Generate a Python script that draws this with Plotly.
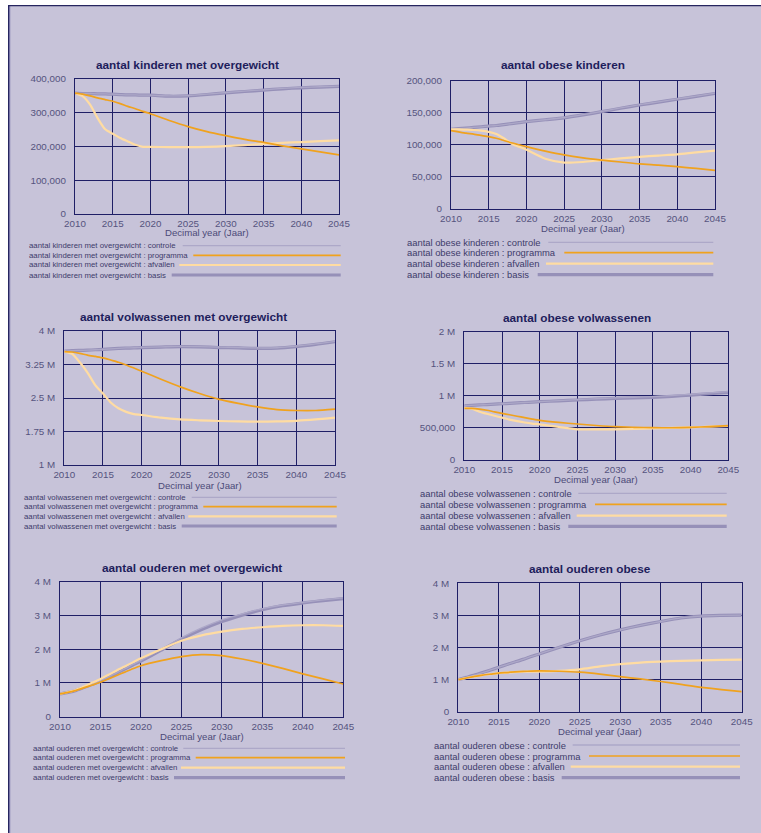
import plotly.graph_objects as go

# ---------------------------------------------------------------- data
YEARS = [2010, 2011, 2012, 2013, 2014, 2015, 2016, 2017, 2018, 2019, 2020,
         2022.5, 2025, 2027.5, 2030, 2032.5, 2035, 2037.5, 2040, 2042.5, 2045]

X_TICKS = [2010, 2015, 2020, 2025, 2030, 2035, 2040, 2045]
SCENARIOS = ["controle", "programma", "afvallen", "basis"]

# aantal kinderen met overgewicht (x 1000)
kind_ov_basis = [358, 357, 357, 356, 356, 355, 354, 353, 353, 352, 352,
                 349, 350, 354, 359, 363, 367, 371, 374, 376, 378]
kind_ov_controle = [358, 357, 357, 356, 356, 355, 354, 353, 353, 352, 352,
                    350, 351, 355, 360, 364, 368, 372, 375, 377, 379]
kind_ov_programma = [358, 355, 350, 344, 339, 334, 327, 319, 312, 304, 297,
                     277, 259, 244, 232, 221, 212, 202, 193, 184, 175]
kind_ov_afvallen = [358, 349, 324, 284, 251, 238, 225, 215, 205, 199, 199,
                    198, 198, 199, 201, 204, 208, 211, 213, 216, 218]

# aantal obese kinderen (x 1000)
kind_ob_basis = [124, 125, 126, 127, 128, 129, 130, 131.5, 133, 134.5, 136,
                 139, 142, 146.5, 151.6, 157, 162, 166.5, 171, 175.5, 180]
kind_ob_controle = [124, 125, 126, 127, 128, 129, 130, 131.5, 133, 134.5, 136,
                    139, 142.5, 147, 152, 157.5, 162.5, 167, 171.5, 176, 180.5]
kind_ob_programma = [122, 120, 118, 116.5, 114.5, 112.5, 110, 106.5, 103, 100, 97,
                     90, 84, 79.5, 76, 73, 70, 68, 65.6, 63, 60]
kind_ob_afvallen = [124, 124, 123.5, 123, 122, 120, 116.7, 110, 102, 97, 92,
                    78, 72, 73, 76, 78.5, 81, 83, 85, 88, 90.6]

# aantal volwassenen met overgewicht (miljoen)
volw_ov_basis = [3.55, 3.56, 3.565, 3.57, 3.58, 3.59, 3.60, 3.61, 3.615, 3.62, 3.63,
                 3.64, 3.65, 3.645, 3.63, 3.62, 3.61, 3.615, 3.65, 3.70, 3.76]
volw_ov_controle = [3.55, 3.56, 3.565, 3.57, 3.58, 3.59, 3.60, 3.61, 3.62, 3.625, 3.635,
                    3.645, 3.655, 3.65, 3.64, 3.63, 3.62, 3.625, 3.66, 3.71, 3.77]
volw_ov_programma = [3.54, 3.53, 3.50, 3.46, 3.43, 3.40, 3.35, 3.30, 3.24, 3.17, 3.10,
                     2.92, 2.75, 2.60, 2.47, 2.38, 2.30, 2.24, 2.22, 2.22, 2.25]
volw_ov_afvallen = [3.54, 3.49, 3.30, 3.07, 2.79, 2.60, 2.40, 2.27, 2.19, 2.14, 2.12,
                    2.06, 2.02, 2.00, 1.985, 1.975, 1.97, 1.975, 1.99, 2.02, 2.06]

# aantal obese volwassenen (miljoen)
volw_ob_basis = [0.846, 0.852, 0.858, 0.864, 0.871, 0.877, 0.883, 0.890, 0.896, 0.903, 0.909,
                 0.922, 0.935, 0.948, 0.960, 0.968, 0.976, 0.992, 1.012, 1.033, 1.054]
volw_ob_controle = [0.846, 0.852, 0.858, 0.864, 0.871, 0.877, 0.883, 0.890, 0.896, 0.903, 0.909,
                    0.925, 0.940, 0.955, 0.968, 0.978, 0.988, 1.004, 1.024, 1.045, 1.066]
volw_ob_programma = [0.805, 0.805, 0.794, 0.775, 0.750, 0.727, 0.705, 0.682, 0.660, 0.638, 0.618,
                     0.585, 0.561, 0.538, 0.519, 0.510, 0.504, 0.503, 0.509, 0.520, 0.535]
volw_ob_afvallen = [0.815, 0.800, 0.753, 0.720, 0.690, 0.660, 0.630, 0.605, 0.585, 0.568, 0.556,
                    0.515, 0.478, 0.476, 0.478, 0.485, 0.493, 0.500, 0.509, 0.520, 0.530]

# aantal ouderen met overgewicht (miljoen)
oud_ov_basis = [0.673, 0.72, 0.78, 0.87, 0.96, 1.06, 1.17, 1.29, 1.41, 1.53, 1.65,
                1.97, 2.30, 2.58, 2.82, 3.01, 3.17, 3.29, 3.37, 3.44, 3.50]
oud_ov_controle = [0.673, 0.72, 0.78, 0.87, 0.96, 1.07, 1.18, 1.30, 1.42, 1.55, 1.67,
                   2.00, 2.34, 2.63, 2.87, 3.05, 3.20, 3.31, 3.39, 3.46, 3.52]
oud_ov_programma = [0.673, 0.72, 0.78, 0.86, 0.94, 1.02, 1.12, 1.22, 1.32, 1.42, 1.51,
                    1.66, 1.78, 1.84, 1.81, 1.71, 1.58, 1.43, 1.27, 1.12, 0.97]
oud_ov_afvallen = [0.673, 0.73, 0.80, 0.90, 1.01, 1.12, 1.24, 1.37, 1.49, 1.61, 1.73,
                   2.00, 2.25, 2.41, 2.52, 2.60, 2.65, 2.69, 2.71, 2.71, 2.69]

# aantal ouderen obese (miljoen)
oud_ob_basis = [1.00, 1.07, 1.14, 1.22, 1.30, 1.385, 1.47, 1.55, 1.63, 1.72, 1.80,
                2.01, 2.21, 2.39, 2.55, 2.69, 2.81, 2.92, 2.98, 3.00, 3.01]
oud_ob_controle = [1.00, 1.07, 1.14, 1.22, 1.30, 1.385, 1.47, 1.55, 1.63, 1.72, 1.80,
                   2.01, 2.21, 2.39, 2.55, 2.69, 2.81, 2.92, 2.98, 3.00, 3.01]
oud_ob_programma = [1.00, 1.05, 1.10, 1.14, 1.17, 1.20, 1.22, 1.24, 1.255, 1.265, 1.27,
                    1.26, 1.23, 1.17, 1.09, 1.02, 0.94, 0.85, 0.76, 0.69, 0.625]
oud_ob_afvallen = [1.00, 1.05, 1.10, 1.14, 1.17, 1.20, 1.22, 1.235, 1.245, 1.25, 1.25,
                   1.27, 1.32, 1.41, 1.48, 1.53, 1.56, 1.585, 1.60, 1.615, 1.625]

# y-axis ticks per panel
Y1_TICKS = [0, 100000, 200000, 300000, 400000]
Y1_TEXT = ["0", "100,000", "200,000", "300,000", "400,000"]
Y2_TICKS = [0, 50000, 100000, 150000, 200000]
Y2_TEXT = ["0", "50,000", "100,000", "150,000", "200,000"]
Y3_TICKS = [1e6, 1.75e6, 2.5e6, 3.25e6, 4e6]
Y3_TEXT = ["1 M", "1.75 M", "2.5 M", "3.25 M", "4 M"]
Y4_TICKS = [0, 5e5, 1e6, 1.5e6, 2e6]
Y4_TEXT = ["0", "500,000", "1 M", "1.5 M", "2 M"]
Y5_TICKS = [0, 1e6, 2e6, 3e6, 4e6]
Y5_TEXT = ["0", "1 M", "2 M", "3 M", "4 M"]

# ---------------------------------------------------------------- styling
W, H = 761, 833
BG = "#C7C3D9"
GRID = "#1F1F66"
FONT = "Liberation Sans, Arial, sans-serif"
STYLE = {
    "basis":     dict(color="#9690B8", width=3.2),
    "controle":  dict(color="#ADA8C8", width=1.3),
    "afvallen":  dict(color="#FFDCA2", width=2.2),
    "programma": dict(color="#F0A21E", width=1.7),
}
DRAW_ORDER = ["basis", "controle", "afvallen", "programma"]


def fx(px):
    """pixel x -> paper coordinate"""
    return px / W


def fy(py):
    """pixel y (from top) -> paper coordinate"""
    return 1 - py / H


panels = [
    dict(title="aantal kinderen met overgewicht", scale=1000,
         series=dict(controle=kind_ov_controle, programma=kind_ov_programma,
                     afvallen=kind_ov_afvallen, basis=kind_ov_basis),
         yrange=[0, 400000], yt=Y1_TICKS, ytt=Y1_TEXT,
         box=(75, 339, 79, 214), tpos=(187.5, 65), xtitle_y=233,
         leg_x=27, leg_rows=[245.7, 255.3, 265, 275], leg_font=7.8,
         leg_start=[182.7, 193.3, 179.3, 171.7], leg_end=340.7),
    dict(title="aantal obese kinderen", scale=1000,
         series=dict(controle=kind_ob_controle, programma=kind_ob_programma,
                     afvallen=kind_ob_afvallen, basis=kind_ob_basis),
         yrange=[0, 200000], yt=Y2_TICKS, ytt=Y2_TEXT,
         box=(451, 715, 80.7, 208.7), tpos=(563, 65), xtitle_y=228.3,
         leg_x=405, leg_rows=[242.3, 252.7, 263.7, 274.7], leg_font=9.4,
         leg_start=[548.3, 564.3, 546, 537.7], leg_end=713.3),
    dict(title="aantal volwassenen met overgewicht", scale=1e6,
         series=dict(controle=volw_ov_controle, programma=volw_ov_programma,
                     afvallen=volw_ov_afvallen, basis=volw_ov_basis),
         yrange=[1e6, 4e6], yt=Y3_TICKS, ytt=Y3_TEXT,
         box=(64.3, 335, 331, 465), tpos=(183.5, 316.7), xtitle_y=485,
         leg_x=22.3, leg_rows=[497.3, 506.7, 516.3, 526], leg_font=7.8,
         leg_start=[191.7, 203.3, 188.3, 181.7], leg_end=336.7),
    dict(title="aantal obese volwassenen", scale=1e6,
         series=dict(controle=volw_ob_controle, programma=volw_ob_programma,
                     afvallen=volw_ob_afvallen, basis=volw_ob_basis),
         yrange=[0, 2e6], yt=Y4_TICKS, ytt=Y4_TEXT,
         box=(464.3, 728.3, 331.7, 460), tpos=(577, 317.7), xtitle_y=479.3,
         leg_x=418.3, leg_rows=[493.3, 504.3, 515.7, 526.3], leg_font=9.4,
         leg_start=[578.3, 595, 576.7, 568.3], leg_end=726.7),
    dict(title="aantal ouderen met overgewicht", scale=1e6,
         series=dict(controle=oud_ov_controle, programma=oud_ov_programma,
                     afvallen=oud_ov_afvallen, basis=oud_ov_basis),
         yrange=[0, 4e6], yt=Y5_TICKS, ytt=Y5_TEXT,
         box=(60, 343.3, 581.7, 716.7), tpos=(191.7, 567.7), xtitle_y=736,
         leg_x=31, leg_rows=[748.3, 757.7, 767.7, 777.7], leg_font=7.8,
         leg_start=[183.3, 195.7, 181, 174], leg_end=345),
    dict(title="aantal ouderen obese", scale=1e6,
         series=dict(controle=oud_ob_controle, programma=oud_ob_programma,
                     afvallen=oud_ob_afvallen, basis=oud_ob_basis),
         yrange=[0, 4e6], yt=Y5_TICKS, ytt=Y5_TEXT,
         box=(458.3, 741.7, 583.3, 711.7), tpos=(589.7, 569), xtitle_y=731,
         leg_x=431.7, leg_rows=[745, 756, 766.7, 777.7], leg_font=9.4,
         leg_start=[572.7, 589, 570.7, 561.7], leg_end=740),
]

fig = go.Figure()
annotations = []
shapes = [
    # page background with its left and top frame
    dict(type="rect", xref="paper", yref="paper", x0=fx(8), x1=1.0, y0=0, y1=fy(5),
         fillcolor=BG, line=dict(width=0), layer="below"),
    dict(type="line", xref="paper", yref="paper", x0=fx(8.6), x1=fx(8.6), y0=0, y1=fy(5),
         line=dict(color="#26255F", width=1.2), layer="below"),
    dict(type="line", xref="paper", yref="paper", x0=fx(9.7), x1=fx(9.7), y0=0, y1=fy(5.6),
         line=dict(color="#6C68A0", width=1), layer="below"),
    dict(type="line", xref="paper", yref="paper", x0=fx(8), x1=1.0, y0=fy(5.6), y1=fy(5.6),
         line=dict(color="#26255F", width=1.2), layer="below"),
]

for i, p in enumerate(panels, start=1):
    xa, ya = f"x{i}", f"y{i}"
    for name in DRAW_ORDER:
        vals = [v * p["scale"] for v in p["series"][name]]
        fig.add_trace(go.Scatter(
            x=YEARS, y=vals, mode="lines", xaxis=xa, yaxis=ya,
            name=f"{p['title']} : {name}", showlegend=False,
            line=dict(color=STYLE[name]["color"], width=STYLE[name]["width"],
                      shape="spline", smoothing=0.6),
            hoverinfo="x+y+name"))

    l, r, t, b = p["box"]
    axis_common = dict(showline=True, mirror=True, linecolor=GRID, linewidth=1.3,
                       showgrid=True, gridcolor=GRID, gridwidth=1.2, zeroline=False,
                       ticks="", fixedrange=True, automargin=False)
    fig.update_layout({
        f"xaxis{i}": dict(domain=[fx(l), fx(r)], anchor=ya, range=[2010, 2045],
                          tickmode="array", tickvals=X_TICKS,
                          ticktext=[str(v) for v in X_TICKS],
                          tickfont=dict(family=FONT, size=9.8, color="#55537E"),
                          ticklabelstandoff=0,
                          **axis_common),
        f"yaxis{i}": dict(domain=[fy(b), fy(t)], anchor=xa, range=p["yrange"],
                          tickmode="array", tickvals=p["yt"], ticktext=p["ytt"],
                          tickfont=dict(family=FONT, size=9.8, color="#55537E"),
                          ticklabelstandoff=6,
                          **axis_common),
    })

    # panel title and x-axis title
    annotations.append(dict(text=p["title"], xref="paper", yref="paper",
                            x=fx(p["tpos"][0]), y=fy(p["tpos"][1]),
                            xanchor="center", yanchor="middle", showarrow=False,
                            font=dict(family=FONT, size=11.8, color="#1E1D5C",
                                      weight="bold")))
    annotations.append(dict(text="Decimal year (Jaar)", xref="paper", yref="paper",
                            x=fx((l + r) / 2), y=fy(p["xtitle_y"]),
                            xanchor="center", yanchor="middle", showarrow=False,
                            font=dict(family=FONT, size=9.6, color="#4C4A78")))

    # scenario key below each panel
    for k, name in enumerate(SCENARIOS):
        ry = p["leg_rows"][k]
        annotations.append(dict(text=f"{p['title']} : {name}", xref="paper", yref="paper",
                                x=fx(p["leg_x"]), y=fy(ry), xanchor="left", yanchor="middle",
                                showarrow=False,
                                font=dict(family=FONT, size=p["leg_font"], color="#3D3B6A")))
        shapes.append(dict(type="line", xref="paper", yref="paper",
                           x0=fx(p["leg_start"][k]), x1=fx(p["leg_end"]),
                           y0=fy(ry), y1=fy(ry),
                           line=dict(color=STYLE[name]["color"], width=STYLE[name]["width"])))

fig.update_layout(
    width=W, height=H, autosize=False,
    margin=dict(l=0, r=0, t=0, b=0, pad=0),
    paper_bgcolor="#FFFFFF", plot_bgcolor=BG,
    showlegend=False,
    annotations=annotations, shapes=shapes,
    font=dict(family=FONT),
)

fig.write_html("out.html")
